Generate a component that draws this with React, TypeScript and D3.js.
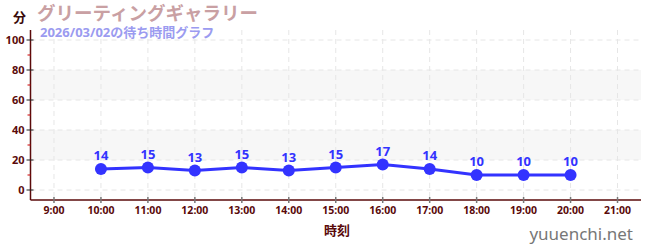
import React from "react";
import * as d3 from "d3";

const hours = [10, 11, 12, 13, 14, 15, 16, 17, 18, 19, 20];
const waits = [14, 15, 13, 15, 13, 15, 17, 14, 10, 10, 10];
const xTicks = [9, 10, 11, 12, 13, 14, 15, 16, 17, 18, 19, 20, 21];
const yTicks = [0, 20, 40, 60, 80, 100];
const yMinor = [10, 30, 50, 70, 90];
const bands = [[20, 40], [60, 80]];

const title = "グリーティングギャラリー";
const subtitle = "2026/03/02の待ち時間グラフ";

export default function App() {
  const W = 650, H = 250;
  const left = 30.5, right = 641, top = 30, bottom = 200;
  const x = d3.scaleLinear().domain([8.5, 21.5]).range([left, right]);
  const y = d3.scaleLinear().domain([0, 100]).range([190, 40]);
  const line = d3.line<number>().x((_, i) => x(hours[i])).y((d) => y(d));
  const font = "'Noto Sans', 'Noto Sans CJK JP', sans-serif";
  const axisColor = "#5a0a0a";
  return (
    <svg width={W} height={H} style={{ position: "absolute", left: 0, top: 0 }} fontFamily={font}>
      <rect width={W} height={H} fill="#fff" />
      {bands.map(([a, b], i) => (
        <rect key={i} x={left} y={y(b)} width={right - left} height={y(a) - y(b)} fill="#f7f7f7" />
      ))}
      {yTicks.map((t) => (
        <line key={"gy" + t} x1={left} x2={right} y1={y(t)} y2={y(t)} stroke="#e6e6e6" strokeDasharray="5,4" />
      ))}
      {xTicks.map((t) => (
        <line key={"gx" + t} x1={x(t)} x2={x(t)} y1={top} y2={bottom} stroke="#e6e6e6" strokeDasharray="5,4" />
      ))}
      <line x1={left} x2={left} y1={top} y2={bottom} stroke={axisColor} strokeWidth={1.5} />
      <line x1={left} x2={right} y1={bottom} y2={bottom} stroke={axisColor} strokeWidth={1.5} />
      {yMinor.map((t) => (
        <line key={"my" + t} x1={left - 3} x2={left} y1={y(t)} y2={y(t)} stroke="#cc0000" />
      ))}
      {yTicks.map((t) => (
        <g key={"ty" + t}>
          <line x1={left - 4} x2={left + 3} y1={y(t)} y2={y(t)} stroke="#222" />
          <text x={left - 6} y={y(t)} dy="0.35em" textAnchor="end" fontSize={11} fontWeight="bold" fill={axisColor}>{t}</text>
        </g>
      ))}
      {xTicks.map((t) => (
        <g key={"tx" + t}>
          <line x1={x(t)} x2={x(t)} y1={bottom - 3} y2={bottom + 3} stroke="#777" strokeWidth={1.5} />
          <text x={x(t)} y={bottom + 14} textAnchor="middle" fontSize={10.5} fontWeight="bold" fill={axisColor}>{t}:00</text>
        </g>
      ))}
      <path d={line(waits) || ""} fill="none" stroke="#3333ff" strokeWidth={3} />
      {waits.map((v, i) => (
        <g key={"p" + i}>
          <circle cx={x(hours[i])} cy={y(v)} r={6} fill="#3333ff" />
          <text x={x(hours[i])} y={y(v) - 9} textAnchor="middle" fontSize={13} fontWeight="bold" fill="#3333ff">{v}</text>
        </g>
      ))}
      <text x={13} y={22} fontSize={13} fontWeight="bold" fill="#3a0a0a">分</text>
      <text x={37} y={20} fontSize={18.5} fontWeight="bold" fill="#c9a0a3">{title}</text>
      <text x={40} y={36.5} fontSize={13} fontWeight="bold" fill="#9b9bf0">{subtitle}</text>
      <text x={337} y={235} textAnchor="middle" fontSize={13} fontWeight="bold" fill={axisColor}>時刻</text>
      <text x={633} y={240} textAnchor="end" fontSize={17} fill="#777">yuuenchi.net</text>
    </svg>
  );
}
